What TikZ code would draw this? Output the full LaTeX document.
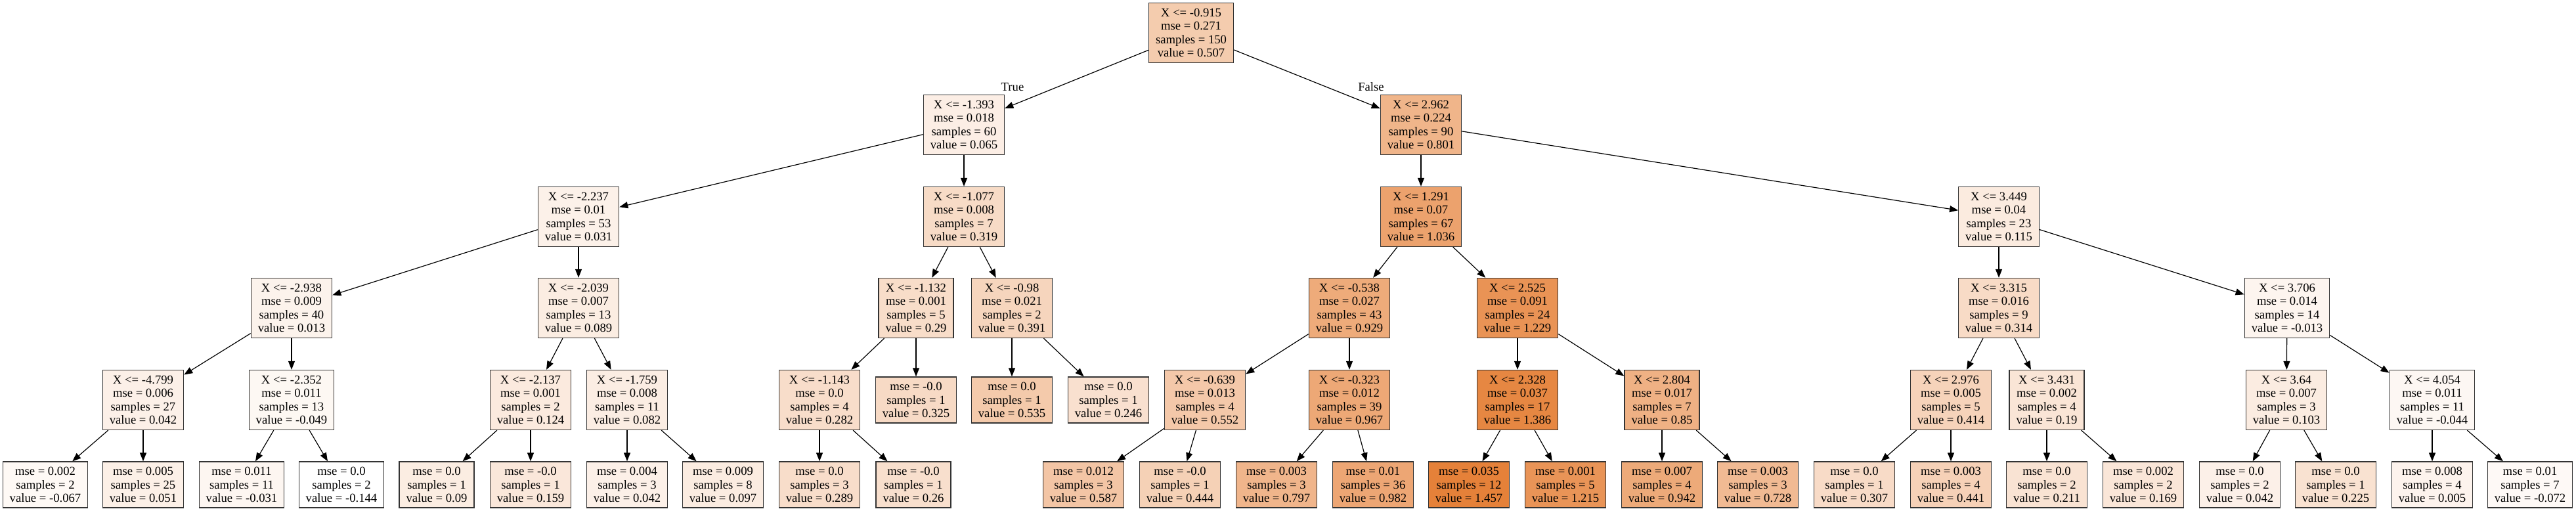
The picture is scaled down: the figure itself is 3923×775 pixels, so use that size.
\documentclass[tikz,border=0pt]{standalone}
\usepackage{fontspec}
\setmainfont{Liberation Serif}
\usetikzlibrary{arrows.meta}
\definecolor{tone}{RGB}{229,129,57}

\begin{document}
\begin{tikzpicture}[x=1pt, y=1pt, line width=1.2pt, >={Triangle[length=13pt,width=10pt]},
    split/.style={draw=black!80, line width=1.3pt, fill=tone!#1, align=center, minimum height=91pt,
        inner xsep=10.5pt, inner ysep=0pt, font=\fontsize{18.67}{20.2}\selectfont},
    leaf/.style={split=#1, minimum height=70pt},
    side/.style={font=\fontsize{18.67}{20.2}\selectfont, inner sep=0pt}]
    \useasboundingbox (0,0) rectangle (3923,775);

    \node[split=40.7] (n0) at (1814, 725) { X <= -0.915\\ mse = 0.271\\ samples = 150\\ value = 0.507 };

    \node[split=13.1] (n1) at (1468, 585) { X <= -1.393\\ mse = 0.018\\ samples = 60\\ value = 0.065 };
    \node[split=59.0] (n26) at (2164, 585) { X <= 2.962\\ mse = 0.224\\ samples = 90\\ value = 0.801 };

    \node[split=10.9] (n2) at (881, 445) { X <= -2.237\\ mse = 0.01\\ samples = 53\\ value = 0.031 };
    \node[split=28.9] (n17) at (1468, 445) { X <= -1.077\\ mse = 0.008\\ samples = 7\\ value = 0.319 };
    \node[split=73.7] (n27) at (2164, 445) { X <= 1.291\\ mse = 0.07\\ samples = 67\\ value = 1.036 };
    \node[split=16.2] (n42) at (3044, 445) { X <= 3.449\\ mse = 0.04\\ samples = 23\\ value = 0.115 };

    \node[split=9.8] (n3) at (444, 306) { X <= -2.938\\ mse = 0.009\\ samples = 40\\ value = 0.013 };
    \node[split=14.6] (n10) at (881, 306) { X <= -2.039\\ mse = 0.007\\ samples = 13\\ value = 0.089 };
    \node[split=27.1] (n18) at (1395, 306) { X <= -1.132\\ mse = 0.001\\ samples = 5\\ value = 0.29 };
    \node[split=33.4] (n23) at (1541, 306) { X <= -0.98\\ mse = 0.021\\ samples = 2\\ value = 0.391 };
    \node[split=67.0] (n28) at (2055, 306) { X <= -0.538\\ mse = 0.027\\ samples = 43\\ value = 0.929 };
    \node[split=85.8] (n35) at (2311, 306) { X <= 2.525\\ mse = 0.091\\ samples = 24\\ value = 1.229 };
    \node[split=28.6] (n43) at (3044, 306) { X <= 3.315\\ mse = 0.016\\ samples = 9\\ value = 0.314 };
    \node[split=8.2] (n50) at (3483, 306) { X <= 3.706\\ mse = 0.014\\ samples = 14\\ value = -0.013 };

    \node[split=11.6] (n4) at (218, 166) { X <= -4.799\\ mse = 0.006\\ samples = 27\\ value = 0.042 };
    \node[split=5.9] (n7) at (444, 166) { X <= -2.352\\ mse = 0.011\\ samples = 13\\ value = -0.049 };
    \node[split=16.7] (n11) at (808, 166) { X <= -2.137\\ mse = 0.001\\ samples = 2\\ value = 0.124 };
    \node[split=14.1] (n14) at (955, 166) { X <= -1.759\\ mse = 0.008\\ samples = 11\\ value = 0.082 };
    \node[split=26.6] (n19) at (1248, 166) { X <= -1.143\\ mse = 0.0\\ samples = 4\\ value = 0.282 };
    \node[leaf=29.3] (n22) at (1395, 166) { mse = -0.0\\ samples = 1\\ value = 0.325 };
    \node[leaf=42.4] (n24) at (1541, 166) { mse = 0.0\\ samples = 1\\ value = 0.535 };
    \node[leaf=24.4] (n25) at (1688, 166) { mse = 0.0\\ samples = 1\\ value = 0.246 };
    \node[split=43.5] (n29) at (1835, 166) { X <= -0.639\\ mse = 0.013\\ samples = 4\\ value = 0.552 };
    \node[split=69.4] (n32) at (2055, 166) { X <= -0.323\\ mse = 0.012\\ samples = 39\\ value = 0.967 };
    \node[split=95.6] (n36) at (2311, 166) { X <= 2.328\\ mse = 0.037\\ samples = 17\\ value = 1.386 };
    \node[split=62.1] (n39) at (2531, 166) { X <= 2.804\\ mse = 0.017\\ samples = 7\\ value = 0.85 };
    \node[split=34.9] (n44) at (2971, 166) { X <= 2.976\\ mse = 0.005\\ samples = 5\\ value = 0.414 };
    \node[split=20.9] (n47) at (3117, 166) { X <= 3.431\\ mse = 0.002\\ samples = 4\\ value = 0.19 };
    \node[split=15.4] (n51) at (3482, 166) { X <= 3.64\\ mse = 0.007\\ samples = 3\\ value = 0.103 };
    \node[split=6.2] (n54) at (3704, 166) { X <= 4.054\\ mse = 0.011\\ samples = 11\\ value = -0.044 };

    \node[leaf=4.8] (n5) at (69, 37) { mse = 0.002\\ samples = 2\\ value = -0.067 };
    \node[leaf=12.2] (n6) at (218, 37) { mse = 0.005\\ samples = 25\\ value = 0.051 };
    \node[leaf=7.1] (n8) at (368, 37) { mse = 0.011\\ samples = 11\\ value = -0.031 };
    \node[leaf=0] (n9) at (520, 37) { mse = 0.0\\ samples = 2\\ value = -0.144 };
    \node[leaf=14.6] (n12) at (665, 37) { mse = 0.0\\ samples = 1\\ value = 0.09 };
    \node[leaf=18.9] (n13) at (808, 37) { mse = -0.0\\ samples = 1\\ value = 0.159 };
    \node[leaf=11.6] (n15) at (955, 37) { mse = 0.004\\ samples = 3\\ value = 0.042 };
    \node[leaf=15.1] (n16) at (1101, 37) { mse = 0.009\\ samples = 8\\ value = 0.097 };
    \node[leaf=27.0] (n20) at (1248, 37) { mse = 0.0\\ samples = 3\\ value = 0.289 };
    \node[leaf=25.2] (n21) at (1391, 37) { mse = -0.0\\ samples = 1\\ value = 0.26 };
    \node[leaf=45.7] (n30) at (1650, 37) { mse = 0.012\\ samples = 3\\ value = 0.587 };
    \node[leaf=36.7] (n31) at (1797, 37) { mse = -0.0\\ samples = 1\\ value = 0.444 };
    \node[leaf=58.8] (n33) at (1944, 37) { mse = 0.003\\ samples = 3\\ value = 0.797 };
    \node[leaf=70.3] (n34) at (2091, 37) { mse = 0.01\\ samples = 36\\ value = 0.982 };
    \node[leaf=100] (n37) at (2237, 37) { mse = 0.035\\ samples = 12\\ value = 1.457 };
    \node[leaf=84.9] (n38) at (2384, 37) { mse = 0.001\\ samples = 5\\ value = 1.215 };
    \node[leaf=67.8] (n40) at (2531, 37) { mse = 0.007\\ samples = 4\\ value = 0.942 };
    \node[leaf=54.5] (n41) at (2677, 37) { mse = 0.003\\ samples = 3\\ value = 0.728 };
    \node[leaf=28.2] (n45) at (2824, 37) { mse = 0.0\\ samples = 1\\ value = 0.307 };
    \node[leaf=36.5] (n46) at (2971, 37) { mse = 0.003\\ samples = 4\\ value = 0.441 };
    \node[leaf=22.2] (n48) at (3117, 37) { mse = 0.0\\ samples = 2\\ value = 0.211 };
    \node[leaf=19.6] (n49) at (3264, 37) { mse = 0.002\\ samples = 2\\ value = 0.169 };
    \node[leaf=11.6] (n52) at (3411, 37) { mse = 0.0\\ samples = 2\\ value = 0.042 };
    \node[leaf=23.0] (n53) at (3557, 37) { mse = 0.0\\ samples = 1\\ value = 0.225 };
    \node[leaf=9.3] (n55) at (3704, 37) { mse = 0.008\\ samples = 4\\ value = 0.005 };
    \node[leaf=4.5] (n56) at (3853, 37) { mse = 0.01\\ samples = 7\\ value = -0.072 };

    \node[side] (yes) at (1542, 643) { True };
    \node[side] (no) at (2088, 643) { False };

    \draw[->] (n0) edge (n1);
    \draw[->] (n0) edge (n26);
    \draw[->] (n1) edge (n2);
    \draw[->] (n1) edge (n17);
    \draw[->] (n2) edge (n3);
    \draw[->] (n2) edge (n10);
    \draw[->] (n3) edge (n4);
    \draw[->] (n3) edge (n7);
    \draw[->] (n4) edge (n5);
    \draw[->] (n4) edge (n6);
    \draw[->] (n7) edge (n8);
    \draw[->] (n7) edge (n9);
    \draw[->] (n10) edge (n11);
    \draw[->] (n10) edge (n14);
    \draw[->] (n11) edge (n12);
    \draw[->] (n11) edge (n13);
    \draw[->] (n14) edge (n15);
    \draw[->] (n14) edge (n16);
    \draw[->] (n17) edge (n18);
    \draw[->] (n17) edge (n23);
    \draw[->] (n18) edge (n19);
    \draw[->] (n18) edge (n22);
    \draw[->] (n19) edge (n20);
    \draw[->] (n19) edge (n21);
    \draw[->] (n23) edge (n24);
    \draw[->] (n23) edge (n25);
    \draw[->] (n26) edge (n27);
    \draw[->] (n26) edge (n42);
    \draw[->] (n27) edge (n28);
    \draw[->] (n27) edge (n35);
    \draw[->] (n28) edge (n29);
    \draw[->] (n28) edge (n32);
    \draw[->] (n29) edge (n30);
    \draw[->] (n29) edge (n31);
    \draw[->] (n32) edge (n33);
    \draw[->] (n32) edge (n34);
    \draw[->] (n35) edge (n36);
    \draw[->] (n35) edge (n39);
    \draw[->] (n36) edge (n37);
    \draw[->] (n36) edge (n38);
    \draw[->] (n39) edge (n40);
    \draw[->] (n39) edge (n41);
    \draw[->] (n42) edge (n43);
    \draw[->] (n42) edge (n50);
    \draw[->] (n43) edge (n44);
    \draw[->] (n43) edge (n47);
    \draw[->] (n44) edge (n45);
    \draw[->] (n44) edge (n46);
    \draw[->] (n47) edge (n48);
    \draw[->] (n47) edge (n49);
    \draw[->] (n50) edge (n51);
    \draw[->] (n50) edge (n54);
    \draw[->] (n51) edge (n52);
    \draw[->] (n51) edge (n53);
    \draw[->] (n54) edge (n55);
    \draw[->] (n54) edge (n56);
\end{tikzpicture}
\end{document}
